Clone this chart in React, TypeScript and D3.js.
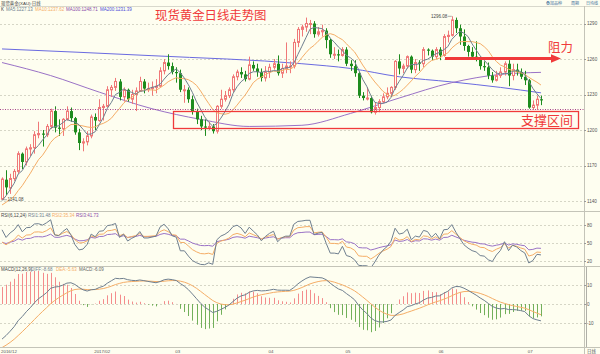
import * as d3 from "d3";

const W = 600;
const H = 354;

// daily candles, 2016-12-29 .. 2017-07-06
const opens = [
  1141.5, 1158, 1151, 1159, 1165, 1180, 1173, 1184, 1185, 1196, 1197, 1196, 1203, 1216, 1202, 1201, 1209, 1216, 1210, 1198, 1189, 1190, 1195,
  1211, 1208, 1219, 1220, 1234, 1236, 1241, 1228, 1234, 1226, 1230, 1233, 1241, 1235, 1235, 1236, 1237, 1250, 1257, 1254,
  1249, 1248, 1234, 1234, 1226, 1216, 1209, 1203, 1202, 1203, 1199, 1220, 1226, 1229, 1234, 1245, 1249, 1247, 1243, 1255, 1252, 1249, 1244,
  1249, 1253, 1256, 1248, 1252, 1254, 1254, 1274, 1285, 1287, 1290, 1290, 1281, 1283, 1284, 1276, 1264, 1264, 1263,
  1268, 1256, 1254, 1248, 1229, 1227, 1227, 1215, 1219, 1224, 1228, 1231, 1236, 1258, 1252, 1254, 1262, 1251, 1257, 1256, 1268, 1267, 1262,
  1268, 1263, 1279, 1280, 1293, 1286, 1279, 1271, 1266, 1262, 1260, 1254, 1253, 1246, 1242, 1246, 1249, 1256, 1246, 1251, 1249, 1245,
  1242, 1219, 1221, 1226,
];
const highs = [
  1160, 1166, 1163, 1167, 1182, 1181, 1186, 1188, 1199, 1207, 1200, 1205, 1218, 1220, 1209, 1210, 1220, 1219, 1211, 1201, 1193, 1199, 1213,
  1214, 1226, 1222, 1237, 1238, 1244, 1243, 1236, 1235, 1234, 1236, 1245, 1243, 1240, 1241, 1243, 1253, 1260, 1264, 1257,
  1253, 1251, 1238, 1236, 1229, 1218, 1212, 1209, 1207, 1205, 1221, 1234, 1233, 1236, 1247, 1251, 1253, 1250, 1262, 1258, 1256, 1252, 1254,
  1256, 1260, 1263, 1256, 1274, 1258, 1277, 1287, 1289, 1295, 1293, 1292, 1287, 1289, 1286, 1277, 1270, 1268, 1270,
  1270, 1259, 1259, 1249, 1232, 1236, 1229, 1223, 1226, 1231, 1236, 1237, 1259, 1264, 1256, 1263, 1263, 1260, 1259, 1270, 1269, 1268, 1270,
  1270, 1281, 1284, 1296.08, 1295, 1289, 1285, 1272, 1270, 1275, 1262, 1258, 1257, 1249, 1250, 1253, 1258, 1259, 1256, 1256, 1252, 1250,
  1243, 1225, 1229, 1229,
];
const lows = [
  1141.08, 1145, 1146, 1157, 1163, 1167, 1170, 1178, 1180, 1193, 1186, 1194, 1201, 1198, 1195, 1195, 1208, 1207, 1196, 1183, 1182, 1187, 1193,
  1200, 1207, 1208, 1219, 1228, 1233, 1225, 1224, 1224, 1222, 1216, 1233, 1231, 1232, 1229, 1231, 1236, 1247, 1251, 1247,
  1240, 1232, 1223, 1223, 1213, 1205, 1200, 1195, 1200, 1197, 1197, 1218, 1224, 1227, 1232, 1242, 1244, 1241, 1242, 1250, 1245, 1241, 1241,
  1244, 1251, 1246, 1244, 1248, 1248, 1252, 1270, 1279, 1283, 1281, 1278, 1279, 1279, 1269, 1261, 1260, 1258, 1262,
  1254, 1250, 1245, 1227, 1225, 1225, 1214, 1213, 1215, 1223, 1226, 1229, 1234, 1247, 1248, 1252, 1248, 1248, 1250, 1253, 1263, 1259, 1260,
  1259, 1262, 1274, 1279, 1282, 1272, 1267, 1262, 1260, 1258, 1251, 1250, 1243, 1240, 1241, 1244, 1246, 1237, 1242, 1246, 1243, 1238,
  1218, 1217, 1217, 1221,
];
const closes = [
  1158.5, 1151.5, 1159, 1165, 1180, 1173, 1184, 1185, 1196, 1197, 1196, 1203, 1216, 1202, 1201, 1209, 1216, 1210, 1198, 1189, 1190, 1195, 1211,
  1208, 1219, 1220, 1234, 1236, 1241, 1228, 1234, 1226, 1230, 1233, 1241, 1235, 1235, 1236, 1237, 1250, 1257, 1254, 1249,
  1248, 1234, 1234, 1226, 1216, 1209, 1203, 1202, 1203, 1199, 1220, 1226, 1229, 1234, 1245, 1249, 1247, 1243, 1255, 1252, 1249, 1244, 1249,
  1253, 1256, 1248, 1252, 1254, 1254, 1274, 1285, 1287, 1290, 1290, 1281, 1283, 1284, 1276, 1264, 1264, 1263, 1268,
  1256, 1254, 1248, 1229, 1227, 1227, 1215, 1219, 1224, 1228, 1231, 1236, 1258, 1252, 1254, 1262, 1251, 1257, 1256, 1268, 1267, 1262, 1268,
  1263, 1279, 1280, 1293, 1286, 1279, 1271, 1266, 1262, 1260, 1254, 1253, 1246, 1242, 1246, 1249, 1256, 1246, 1251, 1249, 1245, 1242,
  1219, 1221, 1226, 1225,
];
// closes before the visible window (indicator warm-up only), 2016-11-01 .. 2016-12-28
const warmupCloses = [
  1288, 1297, 1303, 1304, 1281, 1275, 1274, 1266, 1225, 1221, 1226, 1226, 1216, 1208, 1213, 1213, 1186, 1184, 1178, 1190,
  1188, 1173, 1169, 1177, 1169, 1170, 1172, 1171, 1160, 1158, 1159, 1142, 1129, 1134, 1139, 1132, 1131, 1131, 1133, 1138, 1141,
];

// long averages at a few candles
const ma100Idx = [0, 12, 24, 37, 49, 61, 74, 86, 98, 111, 123, 133];
const ma100Val = [1257, 1246, 1232, 1218, 1209, 1203, 1204, 1214, 1227, 1240, 1247, 1248.7];
const ma200Idx = [0, 37, 74, 86, 98, 111, 123, 133];
const ma200Val = [1268.5, 1262.8, 1256, 1252, 1245, 1240.6, 1236, 1231.4];

const priceTicks = [1140, 1170, 1200, 1230, 1260, 1290];
const rsiTicks = [20, 50, 80];
const macdTicks = [-10, 0, 10];

const monthIdx = [0, 23, 43, 66, 85, 108, 130];
const monthText = ["2016/12", "2017/02", "03", "04", "05", "06", "07"];

const maHeader = ["K", "MA5:1227.13", "MA10:1237.62", "MA100:1248.71", "MA200:1231.39"];
const rsiHeader = ["RSI(6,12,24)", "RSI1:31.48", "RSI2:35.34", "RSI3:41.73"];
const macdHeader = ["MACD(12,26,9)", "DIFF:-8.68", "DEA:-5.63", "MACD:-6.09"];
const toolButtons = ["叠加品种", "周期", "日均线"];

const BG = "#fefef0";
const UP = "#f07878";
const DOWN = "#1e8c1e";
const C_MA5 = "#6f7f8f";
const C_MA10 = "#f5ad66";
const C_MA100 = "#9a72c6";
const C_MA200 = "#6a6ae0";
const RED = "#f03a3a";
const FONT = "'Liberation Sans', 'Noto Sans CJK SC', sans-serif";
const CJK = "'Noto Sans CJK SC', sans-serif";

const N = closes.length;
const off = warmupCloses.length;
const all = [...warmupCloses, ...closes];

function sma(n: number) {
  return closes.map((_, i) => d3.mean(all.slice(off + i - n + 1, off + i + 1)) as number);
}

function rsi(n: number) {
  let up = 0;
  let ab = 0;
  const out: number[] = [];
  for (let k = 1; k < all.length; k++) {
    const d = all[k] - all[k - 1];
    if (k === 1) {
      up = Math.max(d, 0);
      ab = Math.abs(d);
    } else {
      up = (Math.max(d, 0) + (n - 1) * up) / n;
      ab = (Math.abs(d) + (n - 1) * ab) / n;
    }
    out[k] = ab === 0 ? 50 : (up / ab) * 100;
  }
  return closes.map((_, i) => out[off + i]);
}

function macd() {
  let e12 = all[0];
  let e26 = all[0];
  let dea = 0;
  const dif: number[] = [];
  const deas: number[] = [];
  const bar: number[] = [];
  all.forEach((c) => {
    e12 = (2 * c + 11 * e12) / 13;
    e26 = (2 * c + 25 * e26) / 27;
    const d = e12 - e26;
    dea = (2 * d + 8 * dea) / 10;
    dif.push(d);
    deas.push(dea);
    bar.push(2 * (d - dea));
  });
  return {
    dif: dif.slice(off),
    dea: deas.slice(off),
    bar: bar.slice(off),
  };
}

const ma5 = sma(5);
const ma10 = sma(10);
const rsi1 = rsi(6);
const rsi2 = rsi(12);
const rsi3 = rsi(24);
const md = macd();

const xBand = d3.scaleBand<number>().domain(d3.range(N)).range([0, 543]);
const cx = (i: number) => xBand(i)! + xBand.bandwidth() / 2;
const px = (i: number) => Math.round(cx(i));

const yP = d3.scaleLinear().domain([1140, 1290]).range([201, 23.5]);
const yR = d3.scaleLinear().domain([20, 80]).range([261, 225]);
const yM = d3.scaleLinear().domain([-10, 10]).range([323, 285]);

const AX = 584;

function series(vals: number[], y: d3.ScaleLinear<number, number>) {
  return d3
    .line<number>()
    .x((_, i) => cx(i))
    .y((v) => y(v))(vals) as string;
}

function sampled(idx: number[], vals: number[]) {
  return d3
    .line<number>()
    .x((_, k) => cx(idx[k]))
    .y((v) => yP(v))
    .curve(d3.curveMonotoneX)(vals) as string;
}

const headerColors = ["#333", C_MA5, C_MA10, "#8a4aa8", "#4a4ad8"];
const headerX = [1, 6, 35, 66, 100];
const rsiColors = ["#444", C_MA5, C_MA10, "#8a4aa8"];
const rsiX = [1, 28, 52, 76];
const macdColors = ["#444", C_MA5, C_MA10, "#666"];
const macdX = [1, 31, 56, 79];
const buttonX = [546, 571, 586];

function Grid({ ticks, y }: { ticks: number[]; y: d3.ScaleLinear<number, number> }) {
  return (
    <g>
      {ticks.map((t) => (
        <g key={t}>
          <line x1={0} x2={AX} y1={Math.round(y(t)) + 0.5} y2={Math.round(y(t)) + 0.5} stroke="#d6d6c6" strokeDasharray="2,2" />
          <line x1={AX} x2={AX + 2} y1={Math.round(y(t)) + 0.5} y2={Math.round(y(t)) + 0.5} stroke="#999" />
          <text x={AX + 3} y={y(t) + 1.6} fontSize={4.6} fill="#555" fontFamily={FONT}>
            {t}
          </text>
        </g>
      ))}
    </g>
  );
}

export default function App() {
  const lowX = cx(0);
  const hiX = cx(111);
  return (
    <svg width={W} height={H} style={{ position: "absolute", left: 0, top: 0, background: BG }} xmlns="http://www.w3.org/2000/svg">
      <defs>
        <clipPath id="main">
          <rect x={0} y={12} width={AX} height={199} />
        </clipPath>
        <clipPath id="rsi">
          <rect x={0} y={217} width={AX} height={49} />
        </clipPath>
        <clipPath id="macd">
          <rect x={0} y={271} width={AX} height={76} />
        </clipPath>
      </defs>
      <rect width={W} height={H} fill={BG} />

      {/* top bar */}
      <text x={1} y={4.6} fontSize={4.4} fill="#444" fontFamily={FONT}>现货黄金(XAU):日线</text>
      {toolButtons.map((t, k) => (
        <text key={t} x={buttonX[k]} y={4.6} fontSize={4} fill="#3a6f9a" fontFamily={FONT}>
          {t}
        </text>
      ))}
      <line x1={0} x2={W} y1={6.5} y2={6.5} stroke="#d8d8cc" />

      {/* panel frames */}
      <line x1={AX + 0.5} x2={AX + 0.5} y1={6} y2={H} stroke="#c4c4b8" />
      <line x1={AX + 2.5} x2={AX + 2.5} y1={267} y2={347} stroke="#b0b0a8" />
      {[211.5, 266.5, 347.5].map((y) => (
        <line key={y} x1={0} x2={W} y1={y} y2={y} stroke="#c4c4b8" />
      ))}

      <Grid ticks={priceTicks} y={yP} />
      <Grid ticks={rsiTicks} y={yR} />
      <Grid ticks={macdTicks} y={yM} />

      {/* main headers */}
      {maHeader.map((t, k) => (
        <text key={t} x={headerX[k]} y={10.8} fontSize={4.5} fill={headerColors[k]} fontFamily={FONT}>
          {t}
        </text>
      ))}

      <g clipPath="url(#main)">
        {/* long averages */}
        <path d={sampled(ma200Idx, ma200Val)} fill="none" stroke={C_MA200} strokeWidth={1} />
        <path d={sampled(ma100Idx, ma100Val)} fill="none" stroke={C_MA100} strokeWidth={1} />

        {/* candles */}
        {closes.map((c, i) => {
          const o = opens[i];
          const x = px(i);
          const top = yP(Math.max(o, c));
          const bot = yP(Math.min(o, c));
          const up = c >= o;
          const col = up ? UP : DOWN;
          return (
            <g key={i}>
              <line x1={x + 0.5} x2={x + 0.5} y1={yP(highs[i])} y2={yP(lows[i])} stroke={col} />
              {up ? (
                <rect x={x - 0.5} y={top} width={2} height={Math.max(bot - top, 1)} fill={BG} stroke={col} />
              ) : (
                <rect x={x - 1} y={top} width={3} height={Math.max(bot - top, 1)} fill={col} />
              )}
            </g>
          );
        })}

        <path d={series(ma10, yP)} fill="none" stroke={C_MA10} strokeWidth={1} />
        <path d={series(ma5, yP)} fill="none" stroke={C_MA5} strokeWidth={1} />
      </g>

      {/* extreme labels */}
      <line x1={lowX + 1} x2={lowX + 5} y1={yP(1141.08)} y2={yP(1141.08)} stroke="#777" strokeWidth={0.6} />
      <text x={lowX + 5.5} y={yP(1141.08) + 1.6} fontSize={4.5} fill="#444" fontFamily={FONT}>1141.08</text>
      <line x1={hiX - 4} x2={hiX} y1={yP(1296.08)} y2={yP(1296.08)} stroke="#777" strokeWidth={0.6} />
      <text x={hiX - 4.5} y={yP(1296.08) + 1.6} fontSize={4.5} fill="#444" fontFamily={FONT} textAnchor="end">1296.08</text>

      {/* annotations */}
      <line x1={0} x2={AX} y1={109.5} y2={109.5} stroke="#a8468a" strokeDasharray="1,1.5" />
      <text x={155} y={19.8} fontSize={12.4} fill={RED} fontFamily={CJK}>现货黄金日线走势图</text>
      <line x1={445} x2={553} y1={58.5} y2={58.5} stroke={RED} strokeWidth={3} />
      <polygon points="551,54.2 561,58.5 551,62.8" fill={RED} />
      <text x={548} y={51.5} fontSize={12.4} fill={RED} fontFamily={CJK}>阻力</text>
      <rect x={173.5} y={111.5} width={405} height={17} fill="none" stroke={RED} strokeWidth={1.3} />
      <text x={521} y={124.5} fontSize={13} fill={RED} fontFamily={CJK}>支撑区间</text>

      {/* RSI */}
      {rsiHeader.map((t, k) => (
        <text key={t} x={rsiX[k]} y={216.5} fontSize={4.5} fill={rsiColors[k]} fontFamily={FONT}>
          {t}
        </text>
      ))}
      <g clipPath="url(#rsi)">
        <path d={series(rsi3, yR)} fill="none" stroke={C_MA100} />
        <path d={series(rsi2, yR)} fill="none" stroke={C_MA10} />
        <path d={series(rsi1, yR)} fill="none" stroke={C_MA5} />
      </g>

      {/* MACD */}
      {macdHeader.map((t, k) => (
        <text key={t} x={macdX[k]} y={270.5} fontSize={4.5} fill={macdColors[k]} fontFamily={FONT}>
          {t}
        </text>
      ))}
      <g clipPath="url(#macd)">
        {md.bar.map((v, i) => (
          <line
            key={i}
            x1={px(i) + 0.5}
            x2={px(i) + 0.5}
            y1={yM(0)}
            y2={yM(v)}
            stroke={v >= 0 ? "#f48c8c" : "#72b05a"}
          />
        ))}
        <path d={series(md.dea, yM)} fill="none" stroke={C_MA10} />
        <path d={series(md.dif, yM)} fill="none" stroke={C_MA5} />
      </g>

      {/* date axis */}
      {monthIdx.map((i, k) => (
        <text key={k} x={Math.max(1, cx(i) - 1)} y={352.5} fontSize={4.4} fill="#555" fontFamily={FONT}>
          {monthText[k]}
        </text>
      ))}
      <text x={587} y={352.5} fontSize={4.4} fill="#555" fontFamily={FONT}>日线</text>
    </svg>
  );
}
